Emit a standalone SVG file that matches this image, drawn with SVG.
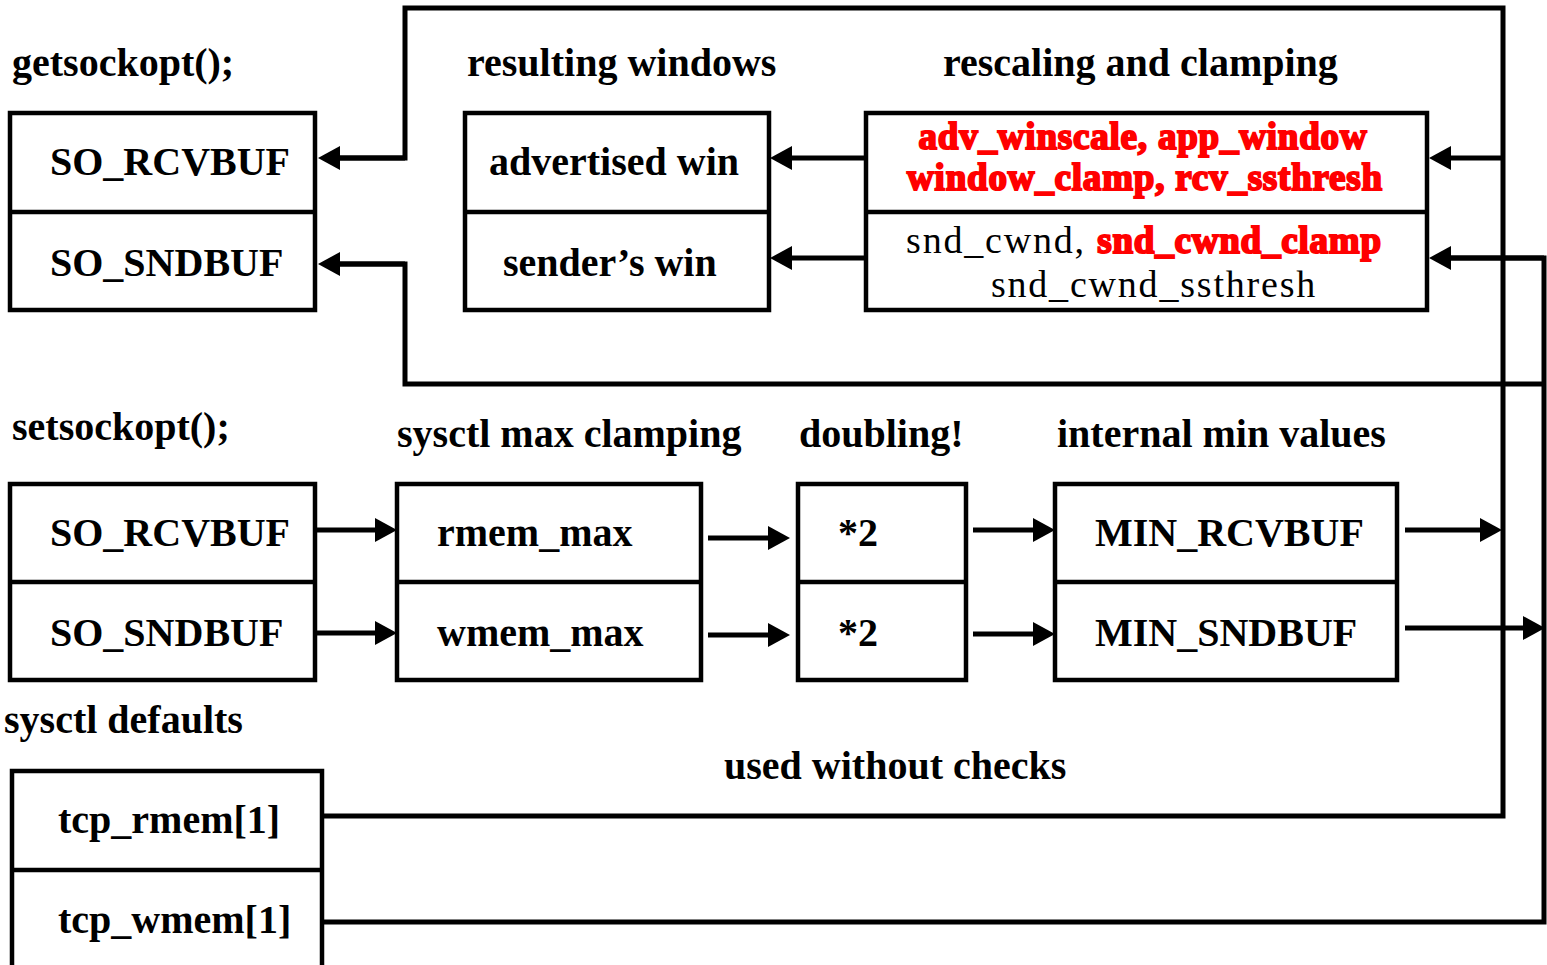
<svg xmlns="http://www.w3.org/2000/svg" width="1547" height="965" viewBox="0 0 1547 965">
<defs>
<marker id="ah" markerUnits="userSpaceOnUse" markerWidth="22" markerHeight="24" refX="14" refY="12" orient="auto">
<path d="M0,0 L22,12 L0,24 z" fill="#000"/>
</marker>
<style>
.box{fill:#fff;stroke:#000;stroke-width:4.5}
.div{stroke:#000;stroke-width:4.5}
.t{font-family:"Liberation Serif","Times New Roman",serif;font-size:40px;font-weight:bold;fill:#000}
.r{font-family:"Liberation Serif","Times New Roman",serif;font-size:38px;font-weight:normal;fill:#000;letter-spacing:1.8px}
.red{font-family:"Liberation Serif","Times New Roman",serif;font-size:37px;font-weight:bold;fill:#ff0000;stroke:#ff0000;stroke-width:2;letter-spacing:0.8px}
.c{fill:none;stroke:#000;stroke-width:5}
.a{fill:none;stroke:#000;stroke-width:5;marker-end:url(#ah)}
</style>
</defs>
<rect width="1547" height="965" fill="#fff"/>

<g id="connectors">
<path class="c" d="M322,816 H1503 V8 H405 V158 H326"/>
<path class="a" d="M405,158 H326"/>
<path class="a" d="M1503,158 H1437"/>
<path class="a" d="M1405,530 H1494"/>
<path class="c" d="M322,922 H1544 V258 H1437"/>
<path class="a" d="M1544,258 H1437"/>
<path class="c" d="M1544,384 H405 V264 H326"/>
<path class="a" d="M405,264 H326"/>
<path class="a" d="M1405,628 H1537"/>
<path class="a" d="M866,158 H778"/>
<path class="a" d="M866,258 H778"/>
<path class="a" d="M315,530 H389"/>
<path class="a" d="M315,633 H389"/>
<path class="a" d="M708,538 H782"/>
<path class="a" d="M708,635 H782"/>
<path class="a" d="M973,530 H1047"/>
<path class="a" d="M973,634 H1047"/>
</g>

<g id="labels">
<text class="t" x="12" y="76">getsockopt();</text>
<text class="t" x="467" y="76">resulting windows</text>
<text class="t" x="943" y="76">rescaling and clamping</text>
<text class="t" x="12" y="440">setsockopt();</text>
<text class="t" x="397" y="447">sysctl max clamping</text>
<text class="t" x="799" y="447">doubling!</text>
<text class="t" x="1057" y="447">internal min values</text>
<text class="t" x="4" y="733">sysctl defaults</text>
<text class="t" x="724" y="779">used without checks</text>
</g>

<g id="get-bufs">
<rect class="box" x="10" y="113" width="305" height="197"/>
<line class="div" x1="10" y1="212" x2="315" y2="212"/>
<text class="t" x="50" y="175">SO_RCVBUF</text>
<text class="t" x="50" y="276">SO_SNDBUF</text>
</g>

<g id="windows">
<rect class="box" x="465" y="113" width="304" height="197"/>
<line class="div" x1="465" y1="212" x2="769" y2="212"/>
<text class="t" x="489" y="175">advertised win</text>
<text class="t" x="503" y="276">sender’s win</text>
</g>

<g id="rescaling">
<rect class="box" x="866" y="113" width="561" height="197"/>
<line class="div" x1="866" y1="212" x2="1427" y2="212"/>
<text class="red" x="1143" y="149" text-anchor="middle">adv_winscale, app_window</text>
<text class="red" x="1145" y="190" text-anchor="middle">window_clamp, rcv_ssthresh</text>
<text x="1144" y="253" text-anchor="middle"><tspan class="r">snd_cwnd, </tspan><tspan class="red">snd_cwnd_clamp</tspan></text>
<text class="r" x="1154" y="297" text-anchor="middle">snd_cwnd_ssthresh</text>
</g>

<g id="set-bufs">
<rect class="box" x="10" y="484" width="305" height="196"/>
<line class="div" x1="10" y1="582" x2="315" y2="582"/>
<text class="t" x="50" y="546">SO_RCVBUF</text>
<text class="t" x="50" y="646">SO_SNDBUF</text>
</g>

<g id="max-clamp">
<rect class="box" x="397" y="484" width="304" height="196"/>
<line class="div" x1="397" y1="582" x2="701" y2="582"/>
<text class="t" x="437" y="546">rmem_max</text>
<text class="t" x="437" y="646">wmem_max</text>
</g>

<g id="doubling">
<rect class="box" x="798" y="484" width="168" height="196"/>
<line class="div" x1="798" y1="582" x2="966" y2="582"/>
<text class="t" x="838" y="546">*2</text>
<text class="t" x="838" y="646">*2</text>
</g>

<g id="min-values">
<rect class="box" x="1055" y="484" width="342" height="196"/>
<line class="div" x1="1055" y1="582" x2="1397" y2="582"/>
<text class="t" x="1095" y="546">MIN_RCVBUF</text>
<text class="t" x="1095" y="646">MIN_SNDBUF</text>
</g>

<g id="defaults">
<rect class="box" x="12" y="771" width="310" height="210"/>
<line class="div" x1="12" y1="870" x2="322" y2="870"/>
<text class="t" x="58" y="833">tcp_rmem[1]</text>
<text class="t" x="58" y="933">tcp_wmem[1]</text>
</g>
</svg>
